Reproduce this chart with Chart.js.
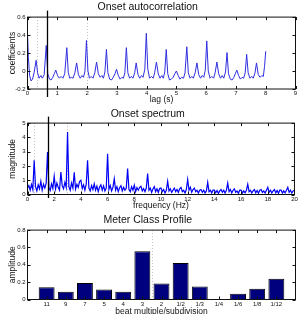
<!DOCTYPE html>
<html>
<head>
<meta charset="utf-8">
<script src="https://cdn.jsdelivr.net/npm/chart.js@4.4.1/dist/chart.umd.min.js"></script>
<style>
  html, body { margin: 0; padding: 0; background: #fff; }
  #wrap { position: relative; width: 299px; height: 314px; overflow: hidden; }
  canvas { position: absolute; left: 0; }
</style>
</head>
<body>
<div id="wrap">
  <canvas id="acChart" width="299" height="106" style="top:0;width:299px;height:106px"></canvas>
  <canvas id="specChart" width="299" height="104" style="top:106px;width:299px;height:104px"></canvas>
  <canvas id="meterChart" width="299" height="104" style="top:210px;width:299px;height:104px"></canvas>
</div>
<script>
// onset autocorrelation, lag in seconds
const acLag = [0.00, 0.03, 0.07, 0.12, 0.17, 0.22, 0.29, 0.34, 0.39, 0.45, 0.50, 0.56, 0.63, 0.68, 0.74, 0.79, 0.85, 0.90, 0.95,
  1.01, 1.07, 1.13, 1.19, 1.25, 1.32, 1.37, 1.42, 1.48, 1.53, 1.59, 1.65, 1.71, 1.77, 1.83, 1.88, 1.93, 1.98,
  2.03, 2.08, 2.14, 2.20, 2.26, 2.32, 2.38, 2.44, 2.50, 2.55, 2.60, 2.65, 2.70, 2.76, 2.82, 2.88, 2.94, 2.99,
  3.05, 3.11, 3.17, 3.22, 3.27, 3.32, 3.37, 3.43, 3.49, 3.54, 3.60, 3.65, 3.71, 3.77, 3.83, 3.88, 3.94, 3.99,
  4.04, 4.10, 4.16, 4.22, 4.27, 4.33, 4.39, 4.45, 4.51, 4.56, 4.61, 4.66, 4.71, 4.77, 4.83, 4.89, 4.95, 5.00,
  5.06, 5.12, 5.18, 5.24, 5.29, 5.35, 5.40, 5.46, 5.52, 5.57, 5.63, 5.69, 5.75, 5.81, 5.87, 5.92, 5.97, 6.02,
  6.07, 6.13, 6.19, 6.25, 6.30, 6.36, 6.42, 6.48, 6.54, 6.59, 6.65, 6.70, 6.75, 6.81, 6.87, 6.93, 6.98, 7.03,
  7.09, 7.15, 7.21, 7.26, 7.31, 7.36, 7.41, 7.47, 7.53, 7.58, 7.64, 7.69, 7.75, 7.81, 7.87, 7.92, 7.96, 8.00];
const acVal = [0.42, 0.15, -0.05, -0.11, -0.09, -0.02, 0.12, -0.02, -0.08, -0.05, -0.08, -0.04, 0.285, -0.03, -0.09, -0.10, -0.07, -0.03, 0.01,
  -0.05, -0.08, -0.06, -0.08, -0.03, 0.26, -0.02, -0.08, -0.07, -0.08, -0.02, 0.09, -0.04, -0.08, -0.05, -0.07, 0.00, 0.34,
  0.00, -0.08, -0.06, -0.08, -0.02, 0.10, -0.03, -0.07, -0.05, -0.08, -0.01, 0.24, -0.02, -0.09, -0.10, -0.07, -0.03, 0.02,
  -0.05, -0.09, -0.07, -0.08, -0.02, 0.26, -0.02, -0.08, -0.06, -0.08, -0.02, 0.09, -0.04, -0.08, -0.05, -0.07, 0.02, 0.42,
  0.02, -0.08, -0.06, -0.08, -0.02, 0.10, -0.03, -0.08, -0.05, -0.08, -0.01, 0.24, -0.03, -0.10, -0.09, -0.07, -0.03, 0.00,
  -0.05, -0.09, -0.07, -0.08, -0.02, 0.27, -0.02, -0.08, -0.06, -0.08, -0.02, 0.09, -0.04, -0.08, -0.05, -0.07, 0.01, 0.335,
  0.00, -0.08, -0.06, -0.08, -0.02, 0.10, -0.03, -0.08, -0.05, -0.08, -0.01, 0.205, -0.03, -0.09, -0.10, -0.07, -0.03, 0.01,
  -0.05, -0.09, -0.07, -0.08, -0.02, 0.185, -0.02, -0.08, -0.06, -0.08, -0.02, 0.09, -0.04, -0.07, -0.05, -0.06, 0.05, 0.22];
const acMarker = 0.65;
const acDotted = [0.31, 2.0];

// onset spectrum, one value every 0.1 Hz from 0 to 20 Hz
const specStep = 0.1;
const specVals = [
  0.45, 0.62, 0.30, 0.70, 0.35, 2.40, 0.55, 0.25, 0.68, 0.40,
  0.93, 0.30, 0.72, 0.45, 0.80, 2.98, 0.50, 0.28, 0.75, 0.42,
  1.28, 0.38, 0.80, 0.50, 0.30, 1.58, 0.62, 0.40, 0.85, 0.50,
  4.37, 0.55, 0.30, 0.80, 0.45, 1.56, 0.38, 0.72, 0.50, 0.90,
  1.00, 0.42, 0.68, 0.30, 0.72, 2.40, 0.45, 0.25, 0.62, 0.35,
  0.75, 0.30, 0.58, 0.20, 0.52, 0.68, 0.30, 0.60, 0.25, 0.45,
  2.86, 0.35, 0.62, 0.25, 0.50, 1.10, 0.30, 0.55, 0.20, 0.48,
  0.62, 0.25, 0.50, 0.30, 0.45, 1.81, 0.35, 0.20, 0.55, 0.30,
  0.65, 0.20, 0.48, 0.30, 0.50, 0.58, 0.25, 0.42, 0.20, 0.45,
  1.47, 0.30, 0.45, 0.15, 0.38, 0.55, 0.20, 0.40, 0.15, 0.42,
  0.45, 0.20, 0.35, 0.10, 0.30, 0.93, 0.25, 0.40, 0.15, 0.30,
  0.45, 0.20, 0.35, 0.15, 0.40, 0.50, 0.20, 0.30, 0.10, 0.35,
  1.05, 0.30, 0.50, 0.15, 0.35, 0.45, 0.20, 0.30, 0.10, 0.30,
  0.35, 0.15, 0.30, 0.10, 0.25, 0.85, 0.20, 0.30, 0.10, 0.30,
  0.30, 0.12, 0.28, 0.08, 0.25, 0.35, 0.15, 0.30, 0.10, 0.30,
  0.80, 0.20, 0.35, 0.10, 0.30, 0.40, 0.15, 0.25, 0.08, 0.30,
  0.30, 0.10, 0.25, 0.12, 0.30, 0.72, 0.20, 0.30, 0.10, 0.25,
  0.35, 0.12, 0.28, 0.08, 0.30, 0.35, 0.15, 0.25, 0.10, 0.30,
  0.50, 0.15, 0.30, 0.10, 0.25, 0.35, 0.12, 0.28, 0.08, 0.30,
  0.30, 0.10, 0.25, 0.12, 0.30, 0.50, 0.15, 0.30, 0.10, 0.25,
  0.30];
const specMarker = 1.5;
const specDotted = [0.48, 2.97];

// meter class profile
const meterLabels = ['11', '9', '7', '5', '4', '3', '2', '1/2', '1/3', '1/4', '1/6', '1/8', '1/12'];
const meterVals = [0.14, 0.09, 0.19, 0.115, 0.09, 0.555, 0.185, 0.42, 0.15, 0.005, 0.065, 0.123, 0.24];
const meterDotted = [6.5];

const FONT = "'Liberation Sans', Arial, Helvetica, sans-serif";
Chart.defaults.font.family = FONT;
Chart.defaults.color = '#111';
Chart.defaults.animation = false;

// matlab-like box with inward ticks, dotted guides and a marker line
const axesBox = {
    id: 'axesBox',
    beforeDatasetsDraw(chart, args, opts) {
        const { ctx, chartArea: a, scales: { x } } = chart;
        ctx.save();
        ctx.strokeStyle = '#c4bccc';
        ctx.lineWidth = 1;
        ctx.setLineDash([1, 2]);
        (opts.dotted || []).forEach(v => {
            const px = Math.round(x.getPixelForValue(v)) + 0.5;
            ctx.beginPath();
            ctx.moveTo(px, a.top);
            ctx.lineTo(px, a.bottom);
            ctx.stroke();
        });
        ctx.restore();
    },
    afterDatasetsDraw(chart, args, opts) {
        const { ctx, chartArea: a, scales: { x, y } } = chart;
        ctx.save();
        ctx.strokeStyle = '#111';
        ctx.lineWidth = 1;
        ctx.strokeRect(a.left, a.top, a.right - a.left, a.bottom - a.top);
        const tl = 3;
        ctx.beginPath();
        x.ticks.forEach((t, i) => {
            if (t.label === '') return;
            const px = Math.round(x.getPixelForTick(i)) + 0.5;
            ctx.moveTo(px, a.bottom); ctx.lineTo(px, a.bottom - tl);
            ctx.moveTo(px, a.top); ctx.lineTo(px, a.top + tl);
        });
        y.ticks.forEach((t, i) => {
            const py = Math.round(y.getPixelForTick(i)) + 0.5;
            ctx.moveTo(a.left, py); ctx.lineTo(a.left + tl, py);
            ctx.moveTo(a.right, py); ctx.lineTo(a.right - tl, py);
        });
        ctx.stroke();
        if (opts.marker !== undefined) {
            const px = Math.round(x.getPixelForValue(opts.marker)) + 0.5;
            ctx.strokeStyle = '#000';
            ctx.lineWidth = 1.3;
            ctx.beginPath();
            ctx.moveTo(px, a.top - opts.markerUp);
            ctx.lineTo(px, a.bottom + opts.markerDown);
            ctx.stroke();
        }
        ctx.restore();
    }
};

function titleOpts(text, top, bottom) {
    return {
        display: true, text: text, color: '#111',
        font: { size: 10.5, weight: 'normal', family: FONT, lineHeight: 1.2 },
        padding: { top: top, bottom: bottom }
    };
}

function axisTitle(text, pad) {
    return { display: true, text: text, color: '#111', font: { size: 8.5, family: FONT, lineHeight: 1.1 }, padding: pad };
}

const tickFont = { size: 6, family: FONT };

function baseScales(xOpts, yOpts, xHeight) {
    return {
        x: Object.assign({
            grid: { display: false, drawTicks: false },
            border: { display: false },
            afterFit(s) { s.height = xHeight; }
        }, xOpts),
        y: Object.assign({
            grid: { display: false, drawTicks: false },
            border: { display: false },
            afterFit(s) { s.width = 27.5; }
        }, yOpts)
    };
}

new Chart(document.getElementById('acChart'), {
    type: 'line',
    data: {
        datasets: [{
            data: acLag.map((t, i) => ({ x: t, y: acVal[i] })),
            borderColor: '#2f2fe0',
            borderWidth: 1,
            pointRadius: 0,
            tension: 0
        }]
    },
    options: {
        responsive: false,
        layout: { padding: { left: 0, right: 3.5, top: 0, bottom: 0 } },
        plugins: {
            legend: { display: false },
            tooltip: { enabled: false },
            title: titleOpts('Onset autocorrelation', 1.3, 3.2),
            axesBox: { dotted: acDotted, marker: acMarker, markerUp: 6.5, markerDown: 8 }
        },
        scales: baseScales(
            { type: 'linear', min: 0, max: 9, ticks: { font: tickFont, padding: 1.2, stepSize: 1, maxRotation: 0, color: '#111' }, title: axisTitle('lag (s)', { top: 0, bottom: 1.5 }) },
            { type: 'linear', min: -0.2, max: 0.6, ticks: { font: tickFont, padding: 2, stepSize: 0.2, color: '#111' }, title: axisTitle('coefficients', { top: 7.5, bottom: 0 }) },
            17)
    },
    plugins: [axesBox]
});

new Chart(document.getElementById('specChart'), {
    type: 'line',
    data: {
        datasets: [{
            data: specVals.map((v, i) => ({ x: i * specStep, y: v })),
            borderColor: '#0000f5',
            borderWidth: 1.2,
            pointRadius: 0,
            tension: 0
        }]
    },
    options: {
        responsive: false,
        layout: { padding: { left: 0, right: 3.5, top: 0, bottom: 0 } },
        plugins: {
            legend: { display: false },
            tooltip: { enabled: false },
            title: titleOpts('Onset spectrum', 2.3, 2.2),
            axesBox: { dotted: specDotted, marker: specMarker, markerUp: 6.5, markerDown: 3.5 }
        },
        scales: baseScales(
            { type: 'linear', min: 0, max: 20, ticks: { font: tickFont, padding: 1.2, stepSize: 2, maxRotation: 0, color: '#111' }, title: axisTitle('frequency (Hz)', { top: 0, bottom: -0.5 }) },
            { type: 'linear', min: 0, max: 5, ticks: { font: tickFont, padding: 2, stepSize: 1, color: '#111' }, title: axisTitle('magnitude', { top: 7.5, bottom: 0 }) },
            15.5)
    },
    plugins: [axesBox]
});

new Chart(document.getElementById('meterChart'), {
    type: 'bar',
    data: {
        labels: ['', ...meterLabels, ''],
        datasets: [{
            data: [null, ...meterVals, null],
            backgroundColor: '#00007f',
            borderColor: '#000',
            borderWidth: 1,
            barPercentage: 0.83,
            categoryPercentage: 1
        }]
    },
    options: {
        responsive: false,
        layout: { padding: { left: 0, right: 3.5, top: 0, bottom: 0 } },
        plugins: {
            legend: { display: false },
            tooltip: { enabled: false },
            title: titleOpts('Meter Class Profile', 4, 3.5),
            axesBox: { dotted: meterDotted }
        },
        scales: baseScales(
            { type: 'category', offset: false, ticks: { font: tickFont, padding: 1.2, maxRotation: 0, autoSkip: false, color: '#111' }, title: axisTitle('beat multiple/subdivision', { top: 0, bottom: -2 }) },
            { type: 'linear', min: 0, max: 0.8, ticks: { font: tickFont, padding: 2, stepSize: 0.2, color: '#111' }, title: axisTitle('amplitude', { top: 7.5, bottom: 0 }) },
            14.5)
    },
    plugins: [axesBox]
});
</script>
</body>
</html>
